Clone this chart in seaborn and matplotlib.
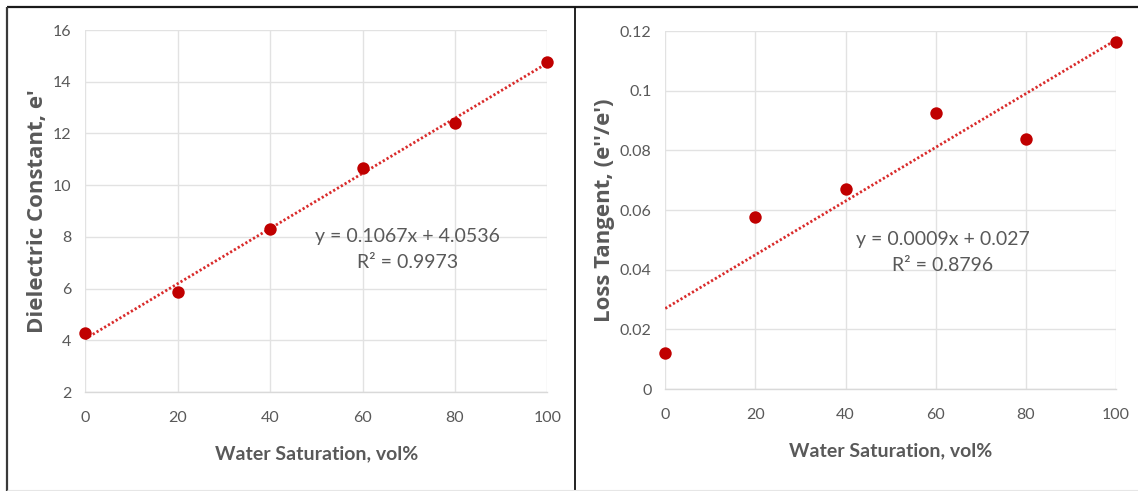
import numpy as np
import pandas as pd
import seaborn as sns
import matplotlib
matplotlib.use("Agg")
import matplotlib.pyplot as plt
from matplotlib.lines import Line2D

# Measured data
water_saturation = [0, 20, 40, 60, 80, 100]
dielectric_constant = [4.28, 5.86, 8.29, 10.65, 12.42, 14.78]
loss_tangent = [0.012, 0.0575, 0.067, 0.0924, 0.0837, 0.1164]

# Linear trendline coefficients (slope, intercept) and R²
dielectric_fit = (0.1067, 4.0536, 0.9973)
loss_fit = (0.0009, 0.027, 0.8796)

x_ticks = [0, 20, 40, 60, 80, 100]
dielectric_ticks = [2, 4, 6, 8, 10, 12, 14, 16]
loss_ticks = [0, 0.02, 0.04, 0.06, 0.08, 0.1, 0.12]
loss_tick_labels = ["0", "0.02", "0.04", "0.06", "0.08", "0.1", "0.12"]

x_label = "Water Saturation, vol%"
dielectric_label = "Dielectric Constant, e'"
loss_label = "Loss Tangent, (e''/e')"

sns.set_theme(style="white")
plt.rcParams["font.family"] = ["Lato", "DejaVu Sans"]

TEXT = "#595959"
GRID = "#E2E2E2"
MARK = "#C00000"
TREND = "#D92B2B"

fig = plt.figure(figsize=(11.38, 4.91), dpi=100)
fig.patch.set_facecolor("white")

ax1 = fig.add_axes([0.0748, 0.2016, 0.4063, 0.7373])
ax2 = fig.add_axes([0.5846, 0.2077, 0.3960, 0.7291])


def fmt_eq(slope, intercept, r2):
    def f(v):
        return f"{v:.4f}".rstrip("0").rstrip(".")
    return f"y = {f(slope)}x + {f(intercept)}\nR\u00b2 = {r2:.4f}"


def draw_panel(ax, y, fit, ylim, yticks, yticklabels, ylabel, eq_xy):
    df = pd.DataFrame({"x": water_saturation, "y": y})
    slope, intercept, r2 = fit
    trend = pd.DataFrame({"x": [0, 100], "y": [intercept, slope * 100 + intercept]})
    sns.lineplot(data=trend, x="x", y="y", ax=ax, color=TREND, lw=2.0, zorder=3)
    trend_line = ax.lines[-1]
    trend_line.set_linestyle((0, (0.8, 0.8)))
    trend_line.set_dash_capstyle("butt")
    sns.scatterplot(data=df, x="x", y="y", ax=ax, color=MARK, s=80,
                    edgecolor=MARK, linewidth=0, zorder=4, clip_on=False)
    ax.set_xlim(0, 100)
    ax.set_ylim(*ylim)
    ax.set_xticks(x_ticks)
    ax.set_yticks(yticks)
    ax.set_yticklabels(yticklabels)
    ax.grid(True, color=GRID, lw=1.0)
    ax.set_axisbelow(True)
    for side in ["top", "right", "left"]:
        ax.spines[side].set_visible(False)
    ax.spines["bottom"].set_color("#D9D9D9")
    ax.spines["bottom"].set_linewidth(1.0)
    ax.tick_params(axis="both", length=0, labelsize=11.5, labelcolor=TEXT)
    ax.tick_params(axis="x", pad=14)
    ax.tick_params(axis="y", pad=10)
    ax.set_xlabel(x_label, fontsize=14, fontweight="bold", color=TEXT, labelpad=14)
    ax.set_ylabel(ylabel, fontsize=16, fontweight="bold", color=TEXT,
                  family=["Open Sans", "DejaVu Sans"], labelpad=3)
    ax.text(eq_xy[0], eq_xy[1], fmt_eq(*fit), ha="center", va="center",
            multialignment="center", fontsize=14, color=TEXT, linespacing=1.65)


draw_panel(ax1, dielectric_constant, dielectric_fit, (2, 16), dielectric_ticks,
           [str(t) for t in dielectric_ticks], dielectric_label, (69.8, 7.5))
draw_panel(ax2, loss_tangent, loss_fit, (0, 0.12), loss_ticks, loss_tick_labels,
           loss_label, (61.5, 0.0457))

# Panel frames
W, H = 1138, 491
def px_line(x0, y0, x1, y1, color, lw):
    fig.add_artist(Line2D([x0 / W, x1 / W], [1 - y0 / H, 1 - y1 / H],
                          transform=fig.transFigure, color=color, lw=lw,
                          solid_capstyle="butt"))

px_line(7, 6.5, W, 6.5, "#1a1a1a", 1.6)
px_line(7.3, 6.5, 7.3, H, "#3a3a3a", 1.6)
px_line(575, 6.5, 575, H, "#111111", 1.3)
px_line(7, 489.5, W, 489.5, "#e6e6e6", 0.8)

fig.savefig("out.png", dpi=100, facecolor="white")
